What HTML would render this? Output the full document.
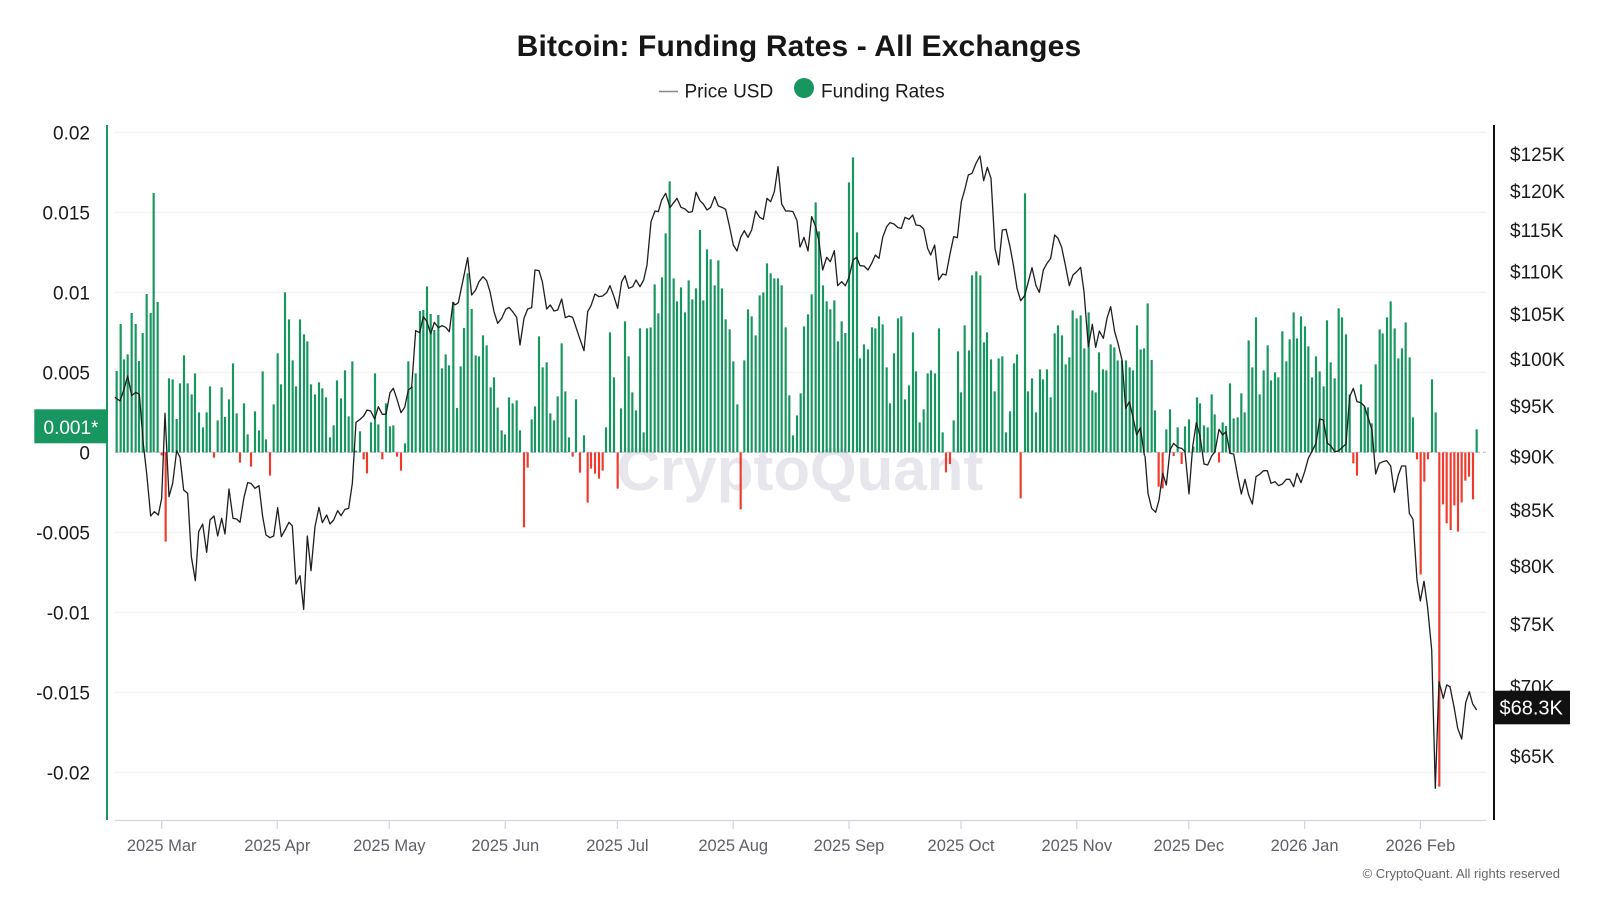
<!DOCTYPE html>
<html>
<head>
<meta charset="utf-8">
<style>
html,body{margin:0;padding:0;background:#fff;}
svg{display:block;}
text{font-family:"Liberation Sans",Arial,sans-serif;}
</style>
</head>
<body>
<svg width="1600" height="900" viewBox="0 0 1600 900" xmlns="http://www.w3.org/2000/svg">
<rect width="1600" height="900" fill="#fff"/>

<!-- Title -->
<text x="799" y="56" text-anchor="middle" font-size="30" font-weight="bold" fill="#161616" letter-spacing="0.15">Bitcoin: Funding Rates - All Exchanges</text>

<!-- Legend -->
<line x1="659" y1="91.5" x2="678" y2="91.5" stroke="#888" stroke-width="1.6"/>
<text x="684.5" y="97.3" font-size="19" fill="#1a1a1a">Price USD</text>
<circle cx="804" cy="88" r="10" fill="#17975f"/>
<text x="821" y="97.3" font-size="19" fill="#1a1a1a">Funding Rates</text>

<!-- Gridlines -->
<g stroke="#f0f0f0" stroke-width="1.2">
<line x1="115" y1="132.3" x2="1486" y2="132.3"/>
<line x1="115" y1="212.3" x2="1486" y2="212.3"/>
<line x1="115" y1="292.3" x2="1486" y2="292.3"/>
<line x1="115" y1="372.3" x2="1486" y2="372.3"/>
<line x1="115" y1="532.3" x2="1486" y2="532.3"/>
<line x1="115" y1="612.3" x2="1486" y2="612.3"/>
<line x1="115" y1="692.3" x2="1486" y2="692.3"/>
<line x1="115" y1="772.3" x2="1486" y2="772.3"/>
</g>

<!-- Watermark -->
<text x="800" y="490" text-anchor="middle" font-size="60" font-weight="bold" fill="#e6e6ec">CryptoQuant</text>

<!-- zero line -->
<line x1="115" y1="452.3" x2="1486" y2="452.3" stroke="#cdcbd8" stroke-width="1.3" stroke-dasharray="5 3"/>

<!-- Bars group 1 -->
<g transform="translate(110 130) scale(0.333333)" stroke-width="6.5" fill="none">
<path stroke="#17975f" d="M20 967V723M32 967V582M42 967V688M53 967V673M65 967V549M77 967V582M87 967V693M98 967V609M110 967V492M122 967V549M131 967V189M143 967V516M177 967V745M188 967V748M200 967V867M210 967V760M222 967V676M233 967V760M245 967V793M255 967V730M267 967V847M279 967V892M290 967V847M300 967V769M323 967V871M335 967V772M345 967V861M357 967V808M369 967V700M380 967V850M402 967V820M413 967V913M435 967V844M447 967V901M458 967V724M468 967V928M491 967V823M503 967V670M513 967V763M525 967V487M537 967V568M548 967V691M558 967V769M570 967V568M582 967V613M592 967V634M603 967V763M615 967V793M627 967V757M637 967V775M648 967V802M660 967V922M671 967V886M681 967V751M693 967V805M705 967V721M716 967V859M727 967V694M738 967V962M750 967V904M783 967V877M795 967V730M805 967V883M828 967V820M840 967V889M850 967V886M885 967V940M895 967V694M906 967V770M917 967V730M930 967V543M940 967V540M951 967V469M962 967V552M973 967V600M985 967V555M996 967V715M1007 967V673M1017 967V706M1030 967V516"/>
<path stroke="#ef3b2d" d="M155 967V976M167 967V1235M312 967V983M390 967V998M423 967V1010M480 967V1037M761 967V988M771 967V1030M817 967V988M861 967V980M873 967V1022"/>
<polyline fill="none" stroke="#1e1e1e" stroke-width="1.3" vector-effect="non-scaling-stroke" stroke-linejoin="round" points="15,802 30,813 42,778 53,738 65,797 77,787 88,793 100,942 110,1030 122,1158 133,1145 145,1155 155,1105 165,850 177,1100 188,1060 200,962 210,982 221,1080 233,1090 244,1280 256,1352 266,1205 278,1182 290,1267 300,1170 312,1158 323,1218 335,1165 345,1212 357,1077 369,1165 380,1167 390,1177 402,1102 413,1058 423,1060 435,1075 447,1067 458,1160 468,1215 480,1223 491,1218 503,1133 514,1220 525,1200 537,1177 547,1188 558,1362 570,1337 581,1438 592,1218 603,1322 615,1190 627,1132 637,1178 650,1155 660,1182 671,1170 683,1142 693,1157 705,1138 716,1135 727,1060 738,877 750,868 761,858 771,840 782,843 794,867 805,830 817,853 828,853 840,788 850,775 861,808 873,848 884,832 895,780 905,772 917,602 929,608 940,560 951,575 962,612 973,577 985,593 996,587 1007,592 1018,605 1029,517 1035,525"/>
</g>

<!-- Bars group 2 -->
<g transform="translate(455 130) scale(0.333333)" stroke-width="6.5" fill="none">
<path stroke="#17975f" d="M6 967V834M17 967V709M27 967V594M38 967V430M50 967V537M62 967V676M72 967V679M84 967V616M95 967V646M107 967V772M117 967V742M128 967V833M140 967V901M150 967V913M162 967V802M173 967V820M185 967V811M195 967V901M230 967V868M240 967V829M252 967V619M263 967V712M275 967V697M286 967V850M297 967V871M308 967V799M320 967V640M331 967V784M342 967V922M363 967V808M387 967V916M453 967V892M465 967V607M477 967V742M498 967V835M510 967V574M521 967V679M532 967V787M543 967V841M555 967V595M566 967V907M576 967V595M587 967V592M599 967V463M610 967V550M621 967V442M632 967V310M644 967V154M656 967V445M666 967V514M678 967V472M690 967V547M701 967V451M712 967V508M723 967V475M735 967V300M745 967V511M756 967V358M767 967V388M779 967V466M790 967V391M801 967V475M812 967V568M824 967V598M835 967V694M847 967V823M868 967V691M879 967V538M890 967V559M902 967V616M914 967V496M925 967V487M936 967V400M947 967V430M958 967V445M969 967V445M980 967V466M992 967V592M1003 967V796M1014 967V916M1026 967V856"/>
<path stroke="#ef3b2d" d="M207 967V1192M218 967V1013M353 967V980M375 967V1028M398 967V1118M408 967V1016M420 967V1031M432 967V1046M443 967V1022M488 967V1076M857 967V1138"/>
<polyline fill="none" stroke="#1e1e1e" stroke-width="1.3" vector-effect="non-scaling-stroke" stroke-linejoin="round" points="0,525 10,518 20,470 38,383 50,495 62,480 72,455 84,440 95,452 105,485 117,545 128,580 140,565 152,538 162,532 173,545 185,562 195,645 207,565 218,537 230,533 240,420 252,422 262,455 275,537 286,525 297,543 308,540 320,507 331,563 342,558 353,562 363,592 375,628 387,662 398,545 408,527 420,492 432,500 443,498 455,488 465,467 477,500 488,535 500,455 510,437 521,475 533,470 543,450 555,470 566,450 576,405 588,275 600,243 610,245 620,210 632,190 645,233 656,218 666,205 678,232 690,237 701,247 712,245 723,187 735,212 745,222 756,240 767,232 779,200 790,228 801,232 812,238 823,287 835,345 846,363 857,322 868,302 879,322 890,300 902,243 914,262 925,268 936,205 947,215 958,185 969,110 980,222 992,243 1003,243 1014,245 1026,272 1035,352"/>
</g>

<!-- Bars group 3 -->
<g transform="translate(800 130) scale(0.333333)" stroke-width="6.5" fill="none">
<path stroke="#17975f" d="M2 967V790M12 967V589M24 967V553M35 967V493M47 967V217M57 967V304M69 967V466M80 967V514M91 967V538M103 967V511M114 967V634M125 967V574M136 967V609M147 967V157M159 967V82M171 967V307M180 967V685M192 967V643M204 967V658M216 967V592M226 967V595M237 967V559M248 967V583M260 967V712M270 967V820M282 967V670M294 967V565M304 967V559M315 967V808M327 967V766M339 967V607M348 967V724M359 967V877M371 967V838M383 967V730M393 967V721M405 967V730M417 967V595M428 967V907M461 967V871M474 967V664M483 967V787M494 967V586M507 967V661M516 967V436M529 967V424M541 967V436M552 967V637M561 967V607M573 967V688M584 967V784M596 967V685M607 967V679M618 967V907M630 967V844M642 967V700M651 967V673M675 967V190M684 967V784M696 967V745M708 967V847M720 967V718M729 967V748M741 967V718M752 967V802M764 967V610M774 967V586M786 967V616M797 967V703M808 967V682M818 967V541M830 967V565M842 967V556M853 967V655M866 967V547M877 967V781M887 967V787M897 967V667M909 967V718M919 967V721M932 967V643M943 967V652M953 967V691M966 967V691M978 967V691M989 967V712M999 967V721M1011 967V586M1022 967V658M1032 967V655"/>
<path stroke="#ef3b2d" d="M438 967V1027M450 967V1002M662 967V1105"/>
<polyline fill="none" stroke="#1e1e1e" stroke-width="1.3" vector-effect="non-scaling-stroke" stroke-linejoin="round" points="0,352 12,322 24,363 35,260 47,290 57,335 68,420 80,382 91,395 103,362 113,467 125,455 136,467 147,442 159,390 170,382 180,407 192,408 204,420 215,400 226,375 237,385 248,322 260,290 270,278 282,282 294,293 304,295 315,262 327,268 338,255 348,285 360,287 371,297 383,355 392,375 404,345 416,450 428,432 438,435 450,372 461,320 472,323 484,215 494,180 505,135 516,130 528,100 540,78 551,152 562,112 573,145 585,355 596,405 607,300 618,298 630,350 641,410 651,475 662,512 674,497 685,455 696,413 708,467 718,487 730,420 741,400 752,385 764,315 774,325 785,352 797,410 808,467 819,435 830,425 842,412 852,485 865,650 877,583 887,652 898,603 910,625 921,565 932,530 944,605 954,640 966,690 977,835 988,815 999,862 1010,915 1021,893 1033,975 1035,977"/>
</g>

<!-- Bars group 4 -->
<g transform="translate(1145 130) scale(0.333333)" stroke-width="6.5" fill="none">
<path stroke="#17975f" d="M8 967V520M20 967V690M30 967V841M64 967V898M75 967V838M98 967V892M120 967V889M132 967V868M145 967V950M156 967V802M165 967V820M177 967V886M188 967V892M200 967V793M209 967V853M233 967V877M243 967V888M255 967V760M266 967V865M278 967V862M289 967V790M299 967V847M311 967V631M322 967V712M333 967V562M344 967V793M356 967V721M368 967V646M378 967V751M390 967V727M400 967V742M412 967V604M424 967V694M434 967V628M446 967V547M456 967V625M468 967V559M480 967V589M490 967V649M501 967V742M513 967V679M524 967V724M536 967V769M546 967V571M557 967V697M569 967V745M581 967V535M591 967V562M603 967V613M614 967V793M648 967V763M659 967V829M669 967V832M680 967V880M692 967V703M704 967V598M713 967V610M726 967V562M737 967V514M749 967V595M760 967V685M771 967V655M782 967V577M794 967V682M804 967V862M861 967V748M872 967V847M995 967V898"/>
<path stroke="#ef3b2d" d="M41 967V1070M53 967V1075M86 967V978M110 967V1002M222 967V997M625 967V1000M636 967V1037M816 967V988M827 967V1333M838 967V1055M849 967V988M883 967V1970M894 967V1123M905 967V1180M917 967V1200M928 967V1126M939 967V1205M950 967V1117M961 967V1052M972 967V1040M984 967V1108"/>
<polyline fill="none" stroke="#1e1e1e" stroke-width="1.3" vector-effect="non-scaling-stroke" stroke-linejoin="round" points="0,978 9,1090 20,1135 32,1147 42,1110 53,1030 64,1065 75,960 86,940 98,952 110,955 120,965 132,1092 143,950 154,878 165,918 177,1002 188,1005 200,978 210,965 222,898 233,915 243,905 255,970 266,972 278,1038 289,1092 300,1048 311,1095 322,1122 333,1040 345,1032 356,1022 367,1022 378,1060 390,1055 401,1067 412,1062 424,1048 434,1048 446,1070 456,1030 468,1058 479,1025 490,985 502,962 513,940 524,867 535,870 547,940 558,948 569,965 580,963 592,952 603,942 614,800 625,775 636,815 647,818 658,828 669,862 681,900 692,1032 703,1000 714,995 725,992 737,1008 748,1087 760,1035 770,1008 782,1008 793,1150 804,1168 816,1350 826,1413 837,1353"/>
</g>

<!-- Price tail -->
<polyline fill="none" stroke="#1e1e1e" stroke-width="1.3" stroke-linejoin="round" points="1424,581 1427.7,608.3 1431.7,650 1435.3,788.3 1439,681.7 1443.3,698.3 1446.7,685 1450,686.7 1454,706.7 1457.7,728.3 1461.7,739 1465.7,702.7 1469.3,691.7 1472.7,704 1476.7,710"/>

<!-- X axis -->
<line x1="115" y1="820.5" x2="1486" y2="820.5" stroke="#d6d5df" stroke-width="1.3"/>
<g stroke="#d6d5df" stroke-width="1.3">
<line x1="161.7" y1="821" x2="161.7" y2="829"/>
<line x1="277.3" y1="821" x2="277.3" y2="829"/>
<line x1="389.3" y1="821" x2="389.3" y2="829"/>
<line x1="505.3" y1="821" x2="505.3" y2="829"/>
<line x1="617.4" y1="821" x2="617.4" y2="829"/>
<line x1="733.2" y1="821" x2="733.2" y2="829"/>
<line x1="849" y1="821" x2="849" y2="829"/>
<line x1="961" y1="821" x2="961" y2="829"/>
<line x1="1076.8" y1="821" x2="1076.8" y2="829"/>
<line x1="1188.8" y1="821" x2="1188.8" y2="829"/>
<line x1="1304.6" y1="821" x2="1304.6" y2="829"/>
<line x1="1420.4" y1="821" x2="1420.4" y2="829"/>
</g>
<g font-size="16.5" fill="#5f5f6a" text-anchor="middle">
<text x="161.7" y="851">2025 Mar</text>
<text x="277.3" y="851">2025 Apr</text>
<text x="389.3" y="851">2025 May</text>
<text x="505.3" y="851">2025 Jun</text>
<text x="617.4" y="851">2025 Jul</text>
<text x="733.2" y="851">2025 Aug</text>
<text x="849" y="851">2025 Sep</text>
<text x="961" y="851">2025 Oct</text>
<text x="1076.8" y="851">2025 Nov</text>
<text x="1188.8" y="851">2025 Dec</text>
<text x="1304.6" y="851">2026 Jan</text>
<text x="1420.4" y="851">2026 Feb</text>
</g>

<!-- Left axis -->
<line x1="107" y1="125" x2="107" y2="820" stroke="#17975f" stroke-width="2"/>
<g font-size="19" fill="#1a1a1a" text-anchor="end">
<text x="90" y="139.3">0.02</text>
<text x="90" y="219.3">0.015</text>
<text x="90" y="299.3">0.01</text>
<text x="90" y="379.3">0.005</text>
<text x="90" y="459.3">0</text>
<text x="90" y="539.3">-0.005</text>
<text x="90" y="619.3">-0.01</text>
<text x="90" y="699.3">-0.015</text>
<text x="90" y="779.3">-0.02</text>
</g>
<rect x="34.3" y="409.3" width="73" height="34" fill="#17975f"/>
<text x="43.5" y="434" font-size="19" fill="#fff">0.001*</text>

<!-- Right axis -->
<line x1="1494" y1="125" x2="1494" y2="820" stroke="#111" stroke-width="2"/>
<g font-size="19" fill="#1a1a1a">
<text x="1510" y="161">$125K</text>
<text x="1510" y="198">$120K</text>
<text x="1510" y="237">$115K</text>
<text x="1510" y="278.7">$110K</text>
<text x="1510" y="321">$105K</text>
<text x="1510" y="366">$100K</text>
<text x="1510" y="413">$95K</text>
<text x="1510" y="463.7">$90K</text>
<text x="1510" y="517">$85K</text>
<text x="1510" y="573">$80K</text>
<text x="1510" y="631">$75K</text>
<text x="1510" y="693.7">$70K</text>
<text x="1510" y="763">$65K</text>
</g>
<rect x="1494" y="690.7" width="76" height="33.6" fill="#111"/>
<text x="1499.5" y="714.5" font-size="20" fill="#fff">$68.3K</text>

<!-- Copyright -->
<text x="1560" y="878" font-size="13" fill="#666" text-anchor="end">© CryptoQuant. All rights reserved</text>
</svg>
</body>
</html>
